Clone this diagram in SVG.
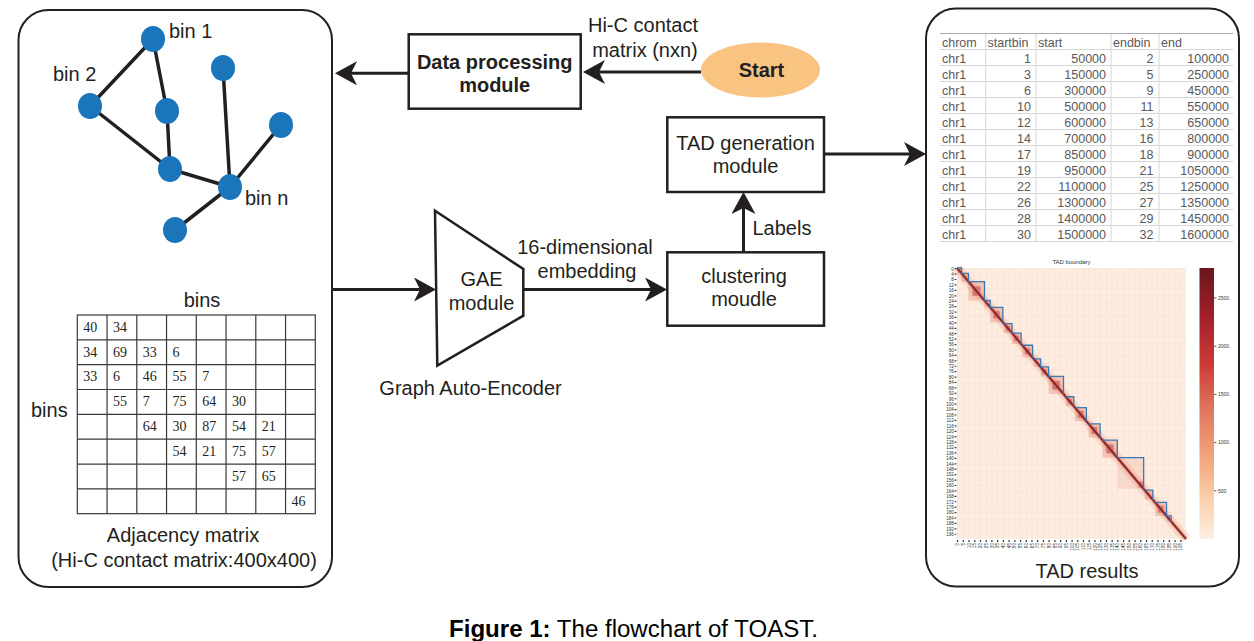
<svg xmlns="http://www.w3.org/2000/svg" width="1254" height="641" viewBox="0 0 1254 641">
<style>
.t{font-family:"Liberation Sans",Arial,sans-serif;font-size:20px;fill:#231f20}
.b{font-weight:bold}
.c{text-anchor:middle}
.box{fill:#fff;stroke:#231f20;stroke-width:2.5}
.panel{fill:#fff;stroke:#231f20;stroke-width:2}
.edge{stroke:#231f20;stroke-width:3.5;stroke-linecap:round}
.node{fill:#1b75bb}
.arrow{stroke:#231f20;stroke-width:3;fill:none;marker-end:url(#ah)}
.mnum{font-family:"Liberation Serif","Times New Roman",serif;font-size:14px;fill:#231f20}
.grid{stroke:#3a3a3a;stroke-width:1.2;fill:none}
.tb{font-family:"Liberation Sans",Arial,sans-serif;font-size:12.5px;fill:#595959}
.tr{text-anchor:end}
.tl{stroke:#d6d6d6;stroke-width:1}
.hm{font-family:"Liberation Sans",Arial,sans-serif;font-size:4.6px;fill:#333}
.tad{fill:none;stroke:#3b78b4;stroke-width:1.3}
.blk{fill:#e27f6a;fill-opacity:0.35}
.dk{fill:#a82a32;fill-opacity:0.45}
</style>
<defs>
<marker id="ah" viewBox="0 0 22 24" refX="12" refY="12" markerWidth="22" markerHeight="24" markerUnits="userSpaceOnUse" orient="auto">
<path d="M0,0 L22,12 L0,24 L6,12 Z" fill="#231f20"/>
</marker>
<linearGradient id="cb" x1="0" y1="0" x2="0" y2="1">
<stop offset="0" stop-color="#67161c"/>
<stop offset="0.18" stop-color="#a3202b"/>
<stop offset="0.35" stop-color="#cb3a35"/>
<stop offset="0.52" stop-color="#e0755c"/>
<stop offset="0.7" stop-color="#f2a57d"/>
<stop offset="0.85" stop-color="#fbcfa9"/>
<stop offset="1" stop-color="#fdefe3"/>
</linearGradient>
<pattern id="hg" x="957" y="268" width="5.725" height="6.775" patternUnits="userSpaceOnUse">
<rect width="5.725" height="6.775" fill="#fdece0"/>
<path d="M0,0.3 H5.725 M0.3,0 V6.775" stroke="#f9dfd0" stroke-width="0.6"/>
</pattern>
</defs>
<rect width="1254" height="641" fill="#fff"/>

<g id="graph-panel">
<rect class="panel" x="18.5" y="10" width="313.5" height="577" rx="30"/>
<g id="graph">
<line class="edge" x1="153" y1="39" x2="90" y2="106"/>
<line class="edge" x1="153" y1="39" x2="167" y2="111"/>
<line class="edge" x1="167" y1="111" x2="170" y2="169"/>
<line class="edge" x1="90" y1="106" x2="170" y2="169"/>
<line class="edge" x1="170" y1="169" x2="230" y2="187"/>
<line class="edge" x1="223" y1="68" x2="230" y2="187"/>
<line class="edge" x1="281" y1="125" x2="230" y2="187"/>
<line class="edge" x1="230" y1="187" x2="175" y2="230"/>
<ellipse class="node" cx="153" cy="39" rx="12" ry="13"/>
<ellipse class="node" cx="90" cy="106" rx="12" ry="13"/>
<ellipse class="node" cx="223" cy="68" rx="12" ry="13"/>
<ellipse class="node" cx="167" cy="111" rx="12" ry="13"/>
<ellipse class="node" cx="281" cy="125" rx="12" ry="13"/>
<ellipse class="node" cx="170" cy="169" rx="12" ry="13"/>
<ellipse class="node" cx="230" cy="187" rx="12" ry="13"/>
<ellipse class="node" cx="175" cy="230" rx="12" ry="13"/>
<text class="t" x="169" y="38">bin 1</text>
<text class="t" x="53" y="81">bin 2</text>
<text class="t" x="245" y="205">bin n</text>
</g>
<g id="matrix">
<text class="t c" x="202" y="307">bins</text>
<text class="t" x="31" y="417">bins</text>
<rect class="grid" x="77.3" y="315" width="238" height="198.7"/>
<path class="grid" d="M107.05,315V513.7M136.8,315V513.7M166.55,315V513.7M196.3,315V513.7M226.05,315V513.7M255.8,315V513.7M285.55,315V513.7M77.3,339.84H315.3M77.3,364.68H315.3M77.3,389.51H315.3M77.3,414.35H315.3M77.3,439.19H315.3M77.3,464.03H315.3M77.3,488.86H315.3"/>
<text class="mnum" y="331.7"><tspan x="83.3">40</tspan><tspan x="113.05">34</tspan></text>
<text class="mnum" y="356.5"><tspan x="83.3">34</tspan><tspan x="113.05">69</tspan><tspan x="142.8">33</tspan><tspan x="172.55">6</tspan></text>
<text class="mnum" y="381.4"><tspan x="83.3">33</tspan><tspan x="113.05">6</tspan><tspan x="142.8">46</tspan><tspan x="172.55">55</tspan><tspan x="202.3">7</tspan></text>
<text class="mnum" y="406.2"><tspan x="113.05">55</tspan><tspan x="142.8">7</tspan><tspan x="172.55">75</tspan><tspan x="202.3">64</tspan><tspan x="232.05">30</tspan></text>
<text class="mnum" y="431.1"><tspan x="142.8">64</tspan><tspan x="172.55">30</tspan><tspan x="202.3">87</tspan><tspan x="232.05">54</tspan><tspan x="261.8">21</tspan></text>
<text class="mnum" y="455.9"><tspan x="172.55">54</tspan><tspan x="202.3">21</tspan><tspan x="232.05">75</tspan><tspan x="261.8">57</tspan></text>
<text class="mnum" y="480.7"><tspan x="232.05">57</tspan><tspan x="261.8">65</tspan></text>
<text class="mnum" y="505.6"><tspan x="291.55">46</tspan></text>
<text class="t c" x="183" y="542">Adjacency matrix</text>
<text class="t c" x="184" y="567">(Hi-C contact matrix:400x400)</text>
</g>
</g>

<g id="start">
<ellipse cx="760.5" cy="70" rx="59.5" ry="27.5" fill="#f9c382"/>
<text class="t b c" x="761.5" y="76.5">Start</text>
</g>

<g id="data-processing">
<rect class="box" x="408.7" y="34.3" width="172" height="74.4"/>
<text class="t b c" x="494.7" y="69.3">Data processing</text>
<text class="t b c" x="494.7" y="92.3">module</text>
</g>

<g id="gae">
<path class="box" d="M435,210.7 L523.3,269 L523.3,315.7 L437.3,365.7 Z"/>
<text class="t c" x="481.5" y="286">GAE</text>
<text class="t c" x="481.5" y="310">module</text>
<text class="t c" x="470.5" y="394.5">Graph Auto-Encoder</text>
</g>

<g id="clustering">
<rect class="box" x="667.3" y="252.3" width="156.7" height="73.4"/>
<text class="t c" x="744" y="282.5">clustering</text>
<text class="t c" x="744" y="305.5">moudle</text>
</g>

<g id="tad-generation">
<rect class="box" x="667.3" y="117.3" width="156.7" height="74.7"/>
<text class="t c" x="745.5" y="149.5">TAD generation</text>
<text class="t c" x="745.5" y="172.7">module</text>
</g>

<g id="connectors">
<line class="arrow" x1="701" y1="72" x2="593" y2="72"/>
<line class="arrow" x1="408.7" y1="73.3" x2="345" y2="73.3"/>
<line class="arrow" x1="332" y1="289.5" x2="426" y2="289.5"/>
<line class="arrow" x1="523.3" y1="289.5" x2="657" y2="289.5"/>
<line class="arrow" x1="743.5" y1="252.3" x2="743.5" y2="202"/>
<line class="arrow" x1="824" y1="154" x2="916" y2="154"/>
<text class="t c" x="643" y="32">Hi-C contact</text>
<text class="t c" x="645" y="57">matrix (nxn)</text>
<text class="t c" x="585" y="253.5">16-dimensional</text>
<text class="t c" x="587" y="278">embedding</text>
<text class="t" x="752.5" y="234.5">Labels</text>
</g>

<g id="tad-results">
<rect class="panel" x="926" y="8.5" width="313" height="578" rx="30"/>
<g id="table">
<path class="tl" d="M940,49.5H1233M940,65.5H1233M940,81.5H1233M940,97.5H1233M940,113.5H1233M940,129.5H1233M940,145.5H1233M940,161.5H1233M940,177.5H1233M940,193.5H1233M940,209.5H1233M940,225.5H1233M940,241.5H1233M985.7,33.5V241.5M1036,33.5V241.5M1111,33.5V241.5M1159,33.5V241.5"/>
<path d="M940,33.5H1233" stroke="#a8a8a8" stroke-width="1.2"/>
<text class="tb" y="47"><tspan x="942">chrom</tspan><tspan x="987.5">startbin</tspan><tspan x="1038">start</tspan><tspan x="1113">endbin</tspan><tspan x="1161">end</tspan></text>
<g class="tb">
<text x="942" y="63">chr1</text><text x="942" y="79">chr1</text><text x="942" y="95">chr1</text><text x="942" y="111">chr1</text><text x="942" y="127">chr1</text><text x="942" y="143">chr1</text><text x="942" y="159">chr1</text><text x="942" y="175">chr1</text><text x="942" y="191">chr1</text><text x="942" y="207">chr1</text><text x="942" y="223">chr1</text><text x="942" y="239">chr1</text>
</g>
<g class="tb tr">
<text x="1031" y="63">1</text><text x="1031" y="79">3</text><text x="1031" y="95">6</text><text x="1031" y="111">10</text><text x="1031" y="127">12</text><text x="1031" y="143">14</text><text x="1031" y="159">17</text><text x="1031" y="175">19</text><text x="1031" y="191">22</text><text x="1031" y="207">26</text><text x="1031" y="223">28</text><text x="1031" y="239">30</text>
<text x="1106" y="63">50000</text><text x="1106" y="79">150000</text><text x="1106" y="95">300000</text><text x="1106" y="111">500000</text><text x="1106" y="127">600000</text><text x="1106" y="143">700000</text><text x="1106" y="159">850000</text><text x="1106" y="175">950000</text><text x="1106" y="191">1100000</text><text x="1106" y="207">1300000</text><text x="1106" y="223">1400000</text><text x="1106" y="239">1500000</text>
<text x="1153.5" y="63">2</text><text x="1153.5" y="79">5</text><text x="1153.5" y="95">9</text><text x="1153.5" y="111">11</text><text x="1153.5" y="127">13</text><text x="1153.5" y="143">16</text><text x="1153.5" y="159">18</text><text x="1153.5" y="175">21</text><text x="1153.5" y="191">25</text><text x="1153.5" y="207">27</text><text x="1153.5" y="223">29</text><text x="1153.5" y="239">32</text>
<text x="1229" y="63">100000</text><text x="1229" y="79">250000</text><text x="1229" y="95">450000</text><text x="1229" y="111">550000</text><text x="1229" y="127">650000</text><text x="1229" y="143">800000</text><text x="1229" y="159">900000</text><text x="1229" y="175">1050000</text><text x="1229" y="191">1250000</text><text x="1229" y="207">1350000</text><text x="1229" y="223">1450000</text><text x="1229" y="239">1600000</text>
</g>
</g>
<g id="heatmap">
<text class="hm c" x="1071.5" y="264" style="font-size:6px">TAD boundary</text>
<rect x="957" y="268" width="229" height="271" fill="url(#hg)"/>
<line x1="957" y1="268" x2="1186" y2="539" stroke="#f5c0a8" stroke-width="10" stroke-opacity="0.45"/>
<rect class="blk" x="957" y="268" width="4.58" height="5.42"/>
<rect class="blk" x="961.58" y="273.42" width="6.87" height="8.13"/>
<rect class="blk" x="968.45" y="281.55" width="16.03" height="18.97"/>
<rect class="blk" x="984.48" y="300.52" width="5.73" height="6.78"/>
<rect class="blk" x="990.21" y="307.3" width="12.59" height="14.9"/>
<rect class="blk" x="1003.95" y="323.56" width="8.01" height="9.48"/>
<rect class="blk" x="1011.96" y="333.04" width="9.16" height="10.84"/>
<rect class="blk" x="1022.27" y="345.24" width="10.3" height="12.19"/>
<rect class="blk" x="1033.72" y="358.79" width="6.87" height="8.13"/>
<rect class="blk" x="1040.59" y="366.92" width="8.01" height="9.48"/>
<rect class="blk" x="1048.6" y="376.4" width="14.89" height="17.62"/>
<rect class="blk" x="1065.78" y="396.73" width="8.01" height="9.48"/>
<rect class="blk" x="1074.94" y="407.57" width="11.45" height="13.55"/>
<rect class="blk" x="1088.68" y="423.83" width="11.45" height="13.55"/>
<rect class="blk" x="1102.42" y="440.09" width="14.88" height="17.61"/>
<rect class="blk" x="1117.3" y="457.7" width="26.34" height="31.17" style="fill-opacity:0.16"/>
<rect class="blk" x="1144.78" y="490.22" width="8.02" height="9.49"/>
<rect class="blk" x="1155.09" y="502.42" width="11.45" height="13.55"/>
<rect class="blk" x="1166.54" y="515.97" width="4.58" height="5.42"/>
<rect class="dk" x="972.46" y="286.29" width="8.02" height="9.49"/>
<rect class="dk" x="993.36" y="311.03" width="6.3" height="7.45"/>
<rect class="dk" x="1005.95" y="325.93" width="4" height="4.74"/>
<rect class="dk" x="1014.25" y="335.75" width="4.58" height="5.42"/>
<rect class="dk" x="1024.85" y="348.29" width="5.15" height="6.1"/>
<rect class="dk" x="1042.59" y="369.29" width="4" height="4.74"/>
<rect class="dk" x="1052.32" y="380.81" width="7.45" height="8.81"/>
<rect class="dk" x="1067.78" y="399.1" width="4" height="4.74"/>
<rect class="dk" x="1077.8" y="410.96" width="5.73" height="6.78"/>
<rect class="dk" x="1091.54" y="427.22" width="5.73" height="6.78"/>
<rect class="dk" x="1106.14" y="444.49" width="7.44" height="8.81"/>
<rect class="dk" x="1138.5" y="481.5" width="5" height="6"/>
<rect class="dk" x="1157.95" y="505.81" width="5.73" height="6.78"/>
<line x1="957" y1="268" x2="1186" y2="539" stroke="#d2604f" stroke-width="4" stroke-opacity="0.5"/>
<line x1="957" y1="268" x2="1186" y2="539" stroke="#842029" stroke-width="1.8"/>
<path class="tad" d="M957,268H961.58V273.42M961.58,273.42H968.45V281.55M968.45,281.55H984.48V300.52M984.48,300.52H990.21V307.3M990.21,307.3H1002.8V322.2M1003.95,323.56H1011.96V333.04M1011.96,333.04H1021.12V343.88M1022.27,345.24H1032.57V357.43M1033.72,358.79H1040.59V366.92M1040.59,366.92H1048.6V376.4M1048.6,376.4H1063.49V394.02M1065.78,396.73H1073.79V406.21M1074.94,407.57H1086.39V421.12M1088.68,423.83H1100.13V437.38M1102.42,440.09H1117.3V457.7M1117.3,457.7H1143.64V488.87M1144.78,490.22H1152.8V499.71M1155.09,502.42H1166.54V515.97M1166.54,515.97H1171.12V521.39"/>
<line x1="955.5" y1="268.08" x2="955.5" y2="539" stroke="#333" stroke-width="1.8" stroke-dasharray="1.2 4.22"/>
<line x1="956.97" y1="541" x2="1186" y2="541" stroke="#333" stroke-width="1.8" stroke-dasharray="1.2 4.525"/>
<text class="hm tr"><tspan x="953.8" y="270.5">0</tspan><tspan x="953.8" y="275.92">4</tspan><tspan x="953.8" y="281.34">8</tspan><tspan x="953.8" y="286.76">12</tspan><tspan x="953.8" y="292.18">16</tspan><tspan x="953.8" y="297.6">20</tspan><tspan x="953.8" y="303.02">24</tspan><tspan x="953.8" y="308.44">28</tspan><tspan x="953.8" y="313.86">32</tspan><tspan x="953.8" y="319.28">36</tspan><tspan x="953.8" y="324.7">40</tspan><tspan x="953.8" y="330.12">44</tspan><tspan x="953.8" y="335.54">48</tspan><tspan x="953.8" y="340.96">52</tspan><tspan x="953.8" y="346.38">56</tspan><tspan x="953.8" y="351.8">60</tspan><tspan x="953.8" y="357.22">64</tspan><tspan x="953.8" y="362.64">68</tspan><tspan x="953.8" y="368.06">72</tspan><tspan x="953.8" y="373.48">76</tspan><tspan x="953.8" y="378.9">80</tspan><tspan x="953.8" y="384.32">84</tspan><tspan x="953.8" y="389.74">88</tspan><tspan x="953.8" y="395.16">92</tspan><tspan x="953.8" y="400.58">96</tspan><tspan x="953.8" y="406">100</tspan><tspan x="953.8" y="411.42">104</tspan><tspan x="953.8" y="416.84">108</tspan><tspan x="953.8" y="422.26">112</tspan><tspan x="953.8" y="427.68">116</tspan><tspan x="953.8" y="433.1">120</tspan><tspan x="953.8" y="438.52">124</tspan><tspan x="953.8" y="443.94">128</tspan><tspan x="953.8" y="449.36">132</tspan><tspan x="953.8" y="454.78">136</tspan><tspan x="953.8" y="460.2">140</tspan><tspan x="953.8" y="465.62">144</tspan><tspan x="953.8" y="471.04">148</tspan><tspan x="953.8" y="476.46">152</tspan><tspan x="953.8" y="481.88">156</tspan><tspan x="953.8" y="487.3">160</tspan><tspan x="953.8" y="492.72">164</tspan><tspan x="953.8" y="498.14">168</tspan><tspan x="953.8" y="503.56">172</tspan><tspan x="953.8" y="508.98">176</tspan><tspan x="953.8" y="514.4">180</tspan><tspan x="953.8" y="519.82">184</tspan><tspan x="953.8" y="525.24">188</tspan><tspan x="953.8" y="530.66">192</tspan><tspan x="953.8" y="536.08">196</tspan></text>
<g class="hm tr">
<text transform="translate(959.17,543) rotate(-90)">0</text>
<text transform="translate(964.9,543) rotate(-90)">5</text>
<text transform="translate(970.62,543) rotate(-90)">10</text>
<text transform="translate(976.35,543) rotate(-90)">15</text>
<text transform="translate(982.07,543) rotate(-90)">20</text>
<text transform="translate(987.8,543) rotate(-90)">25</text>
<text transform="translate(993.52,543) rotate(-90)">30</text>
<text transform="translate(999.25,543) rotate(-90)">35</text>
<text transform="translate(1004.97,543) rotate(-90)">40</text>
<text transform="translate(1010.7,543) rotate(-90)">45</text>
<text transform="translate(1016.42,543) rotate(-90)">50</text>
<text transform="translate(1022.15,543) rotate(-90)">55</text>
<text transform="translate(1027.87,543) rotate(-90)">60</text>
<text transform="translate(1033.6,543) rotate(-90)">65</text>
<text transform="translate(1039.32,543) rotate(-90)">70</text>
<text transform="translate(1045.05,543) rotate(-90)">75</text>
<text transform="translate(1050.77,543) rotate(-90)">80</text>
<text transform="translate(1056.5,543) rotate(-90)">85</text>
<text transform="translate(1062.22,543) rotate(-90)">90</text>
<text transform="translate(1067.95,543) rotate(-90)">95</text>
<text transform="translate(1073.67,543) rotate(-90)">100</text>
<text transform="translate(1079.4,543) rotate(-90)">105</text>
<text transform="translate(1085.12,543) rotate(-90)">110</text>
<text transform="translate(1090.85,543) rotate(-90)">115</text>
<text transform="translate(1096.57,543) rotate(-90)">120</text>
<text transform="translate(1102.3,543) rotate(-90)">125</text>
<text transform="translate(1108.02,543) rotate(-90)">130</text>
<text transform="translate(1113.75,543) rotate(-90)">135</text>
<text transform="translate(1119.47,543) rotate(-90)">140</text>
<text transform="translate(1125.2,543) rotate(-90)">145</text>
<text transform="translate(1130.92,543) rotate(-90)">150</text>
<text transform="translate(1136.65,543) rotate(-90)">155</text>
<text transform="translate(1142.37,543) rotate(-90)">160</text>
<text transform="translate(1148.1,543) rotate(-90)">165</text>
<text transform="translate(1153.82,543) rotate(-90)">170</text>
<text transform="translate(1159.55,543) rotate(-90)">175</text>
<text transform="translate(1165.27,543) rotate(-90)">180</text>
<text transform="translate(1171,543) rotate(-90)">185</text>
<text transform="translate(1176.72,543) rotate(-90)">190</text>
<text transform="translate(1182.45,543) rotate(-90)">195</text>
</g>
<rect x="1199.5" y="268" width="14.5" height="271" fill="url(#cb)"/>
<path d="M1214,298H1216.5M1214,346.2H1216.5M1214,394.4H1216.5M1214,442.6H1216.5M1214,490.8H1216.5" stroke="#333" stroke-width="0.8"/>
<text class="hm" style="font-size:5px"><tspan x="1218" y="299.7">2500</tspan><tspan x="1218" y="347.9">2000</tspan><tspan x="1218" y="396.1">1500</tspan><tspan x="1218" y="444.3">1000</tspan><tspan x="1218" y="492.5">500</tspan></text>
</g>
<text class="t c" x="1087" y="578">TAD results</text>
</g>

<text id="caption" class="t" x="449" y="636.5" textLength="369" lengthAdjust="spacingAndGlyphs" style="font-size:23.5px;fill:#000"><tspan class="b">Figure 1:</tspan> The flowchart of TOAST.</text>
</svg>
